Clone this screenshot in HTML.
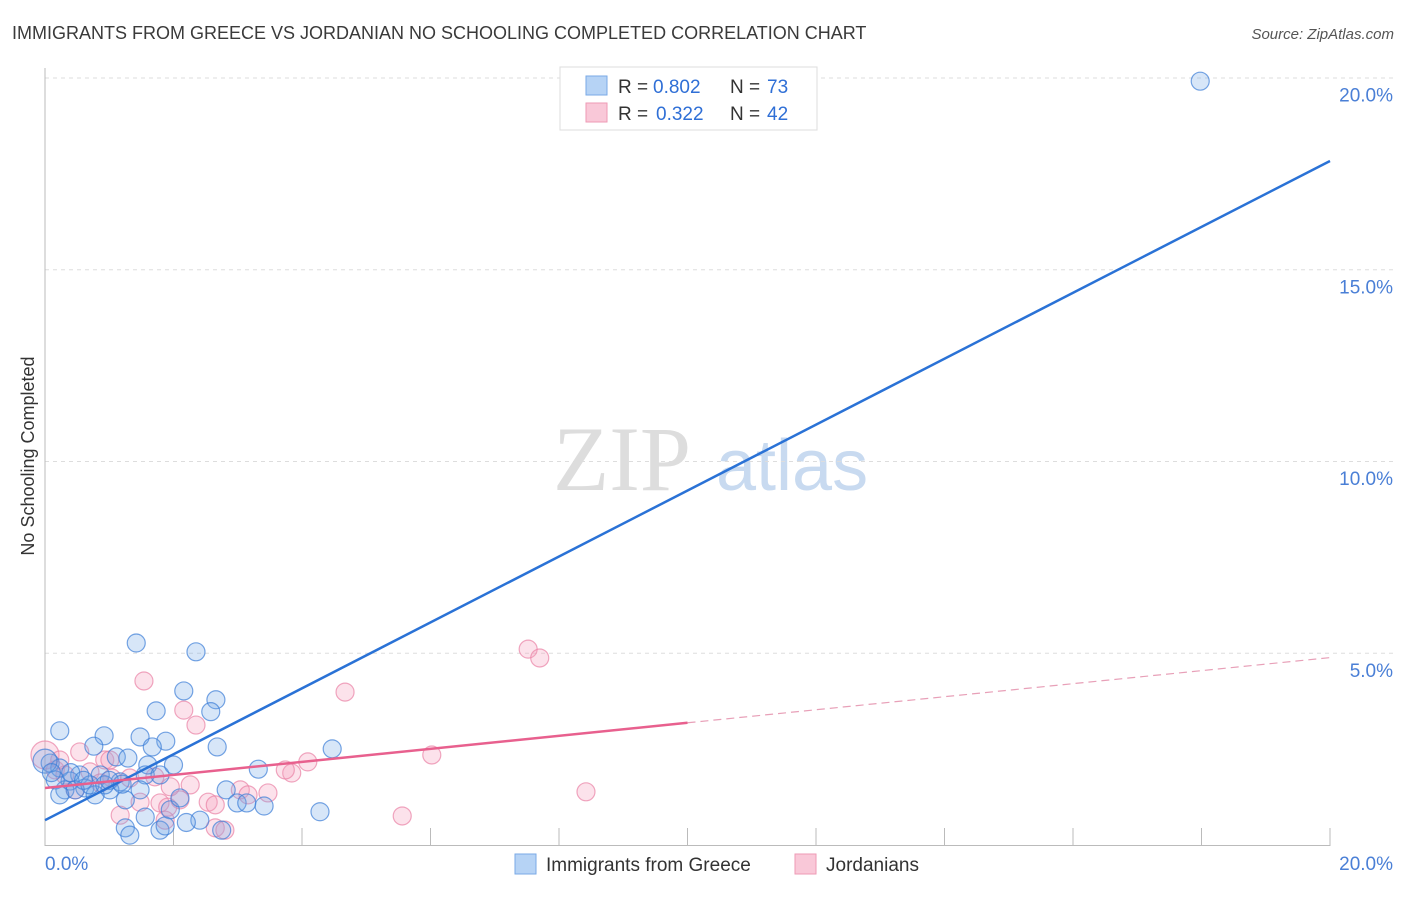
<!DOCTYPE html>
<html><head><meta charset="utf-8"><style>
body{margin:0;background:#fff;font-family:"Liberation Sans",sans-serif}
</style></head><body>
<svg id="c" width="1406" height="892" xmlns="http://www.w3.org/2000/svg">
<text x="12" y="39" font-size="18" fill="#3a3a3a">IMMIGRANTS FROM GREECE VS JORDANIAN NO SCHOOLING COMPLETED CORRELATION CHART</text>
<text x="1394" y="39" font-size="15" fill="#555" font-style="italic" text-anchor="end">Source: ZipAtlas.com</text>
<text x="34" y="456" font-size="18" fill="#333" text-anchor="middle" transform="rotate(-90 34 456)">No Schooling Completed</text>
<text x="553" y="490" font-size="92" fill="#ddd" font-family="Liberation Serif,serif">ZIP</text>
<text x="716" y="490" font-size="72" fill="#c8daf0">atlas</text>
<g id="grid"></g><g id="pts"></g><g id="lines"></g>
<g>
<rect x="560" y="67" width="257" height="63" fill="#fff" stroke="#ddd"/>
<rect x="586" y="76" width="21" height="19" fill="#b6d3f5" stroke="#7aa9e6"/>
<rect x="586" y="103" width="21" height="19" fill="#f9c8d8" stroke="#ee9ab5"/>
<text x="618" y="93" font-size="19" fill="#333">R =</text>
<text x="653" y="93" font-size="19" fill="#2f6fd6">0.802</text>
<text x="730" y="93" font-size="19" fill="#333">N =</text>
<text x="767" y="93" font-size="19" fill="#2f6fd6">73</text>
<text x="618" y="120" font-size="19" fill="#333">R =</text>
<text x="656" y="120" font-size="19" fill="#2f6fd6">0.322</text>
<text x="730" y="120" font-size="19" fill="#333">N =</text>
<text x="767" y="120" font-size="19" fill="#2f6fd6">42</text>
</g>
<g>
<rect x="515" y="854" width="21" height="20" fill="#b6d3f5" stroke="#7aa9e6"/>
<text x="546" y="871" font-size="19" fill="#333">Immigrants from Greece</text>
<rect x="795" y="854" width="21" height="20" fill="#f9c8d8" stroke="#ee9ab5"/>
<text x="826" y="871" font-size="19" fill="#333">Jordanians</text>
</g>
</svg>
<script>
const yTicks=[5,10,15,20];
const yTickLabels=["5.0%","10.0%","15.0%","20.0%"];
const xTickLabels=["0.0%","20.0%"];
const greeceX=[17.98,1.42,2.35,2.16,2.66,1.73,2.58,0.23,0.92,1.48,1.88,0.76,1.67,2.68,4.47,1.11,1.29,1.60,3.32,0.08,0.23,0.54,0.86,0.39,1.17,1.56,1.79,2.82,0.31,0.62,1.01,0.78,1.25,2.99,3.41,3.14,4.28,1.95,2.41,1.56,1.25,1.79,2.75,1.32,1.87,0.16,0.47,0.70,0.93,0.23,1.48,2.10,0,0.1,0.4,0.6,1.0,1.2,2.0,2.2];
const greeceY=[19.93,5.28,5.05,4.03,3.80,3.51,3.49,2.99,2.86,2.83,2.72,2.59,2.57,2.57,2.52,2.31,2.28,2.10,1.99,2.15,2.02,1.84,1.84,1.68,1.66,1.84,1.84,1.45,1.45,1.50,1.45,1.32,1.19,1.11,1.03,1.11,0.88,0.93,0.66,0.74,0.46,0.40,0.40,0.27,0.51,1.71,1.45,1.58,1.58,1.32,1.45,1.24,2.2,1.9,1.9,1.7,1.7,1.6,2.1,0.6];
const jordX=[0,1.54,2.16,2.35,7.52,7.70,4.67,6.02,8.42,5.56,0.54,0.93,1.32,1.71,3.04,3.16,3.84,3.74,4.09,2.26,2.10,2.54,2.65,1.48,1.79,1.91,1.17,2.65,1.87,0.16,0.31,0.70,1.04,0.86,0.47,3.47,2.80,0.23,1.01,1.95];
const jordY=[2.36,4.29,3.53,3.14,5.12,4.89,4.00,2.36,1.40,0.77,2.44,2.23,1.76,1.79,1.45,1.32,1.89,1.97,2.18,1.58,1.19,1.13,1.06,1.13,1.11,1.00,0.79,0.46,0.66,1.97,1.84,1.92,1.76,1.63,1.45,1.37,0.40,2.23,2.23,1.53];
const greeceFit=[0.66,17.85];
const jordFit=[1.5,4.9];
const NS="http://www.w3.org/2000/svg";
const X=v=>45+v*64.25, Y=v=>845.5-v*38.35;
function mk(t,a,p){const e=document.createElementNS(NS,t);for(const k in a)e.setAttribute(k,a[k]);p.appendChild(e);return e;}
const grid=document.getElementById('grid');
yTicks.forEach((t,i)=>{
 const l=mk('line',{x1:45,x2:1393,y1:Y(t)-0.5,y2:Y(t)-0.5,stroke:'#ddd','stroke-dasharray':'4,4'},grid);
 
 
 const tx=mk('text',{x:1393,y:Y(t)+23,'font-size':19,fill:'#4a7fd6','text-anchor':'end'},grid);
 tx.textContent=yTickLabels[i];
 
 
});
mk('line',{x1:45,x2:45,y1:68,y2:846,stroke:'#bbb'},grid);
mk('line',{x1:45,x2:1330,y1:845.5,y2:845.5,stroke:'#bbb'},grid);
for(let i=1;i<=10;i++){const l=mk('line',{x1:X(i*2),x2:X(i*2),y1:828,y2:846,stroke:'#bbb'},grid);
 
 }
[[0,45,'start'],[20,1393,'end']].forEach((d,i)=>{const t=mk('text',{x:d[1],y:870,'font-size':19,fill:'#4a7fd6','text-anchor':d[2]},grid);t.textContent=xTickLabels[i];
 
 });
const pts=document.getElementById('pts');
jordX.forEach((x,i)=>{const c=mk('circle',{cx:X(x),cy:Y(jordY[i]),r:i==0?14:9,fill:'rgba(244,160,190,0.3)',stroke:'rgba(234,130,165,0.7)','stroke-width':1.2},pts);
 
 });
greeceX.forEach((x,i)=>{const c=mk('circle',{cx:X(x),cy:Y(greeceY[i]),r:i==52?12:9,fill:'rgba(110,165,230,0.28)',stroke:'rgba(60,125,215,0.7)','stroke-width':1.2},pts);
 
 });
const ln=document.getElementById('lines');
const b=mk('line',{x1:X(0),y1:Y(greeceFit[0]),x2:X(20),y2:Y(greeceFit[1]),stroke:'#2a72d6','stroke-width':2.5},ln);


const jm=jordFit[0]+(jordFit[1]-jordFit[0])*0.5;
const p1=mk('line',{x1:X(0),y1:Y(jordFit[0]),x2:X(10),y2:Y(jm),stroke:'#e8608e','stroke-width':2.5},ln);


const p2=mk('line',{x1:X(10),y1:Y(jm),x2:X(20),y2:Y(jordFit[1]),stroke:'#e8a0b8','stroke-width':1.2,'stroke-dasharray':'8,5'},ln);


</script>
</body></html>
